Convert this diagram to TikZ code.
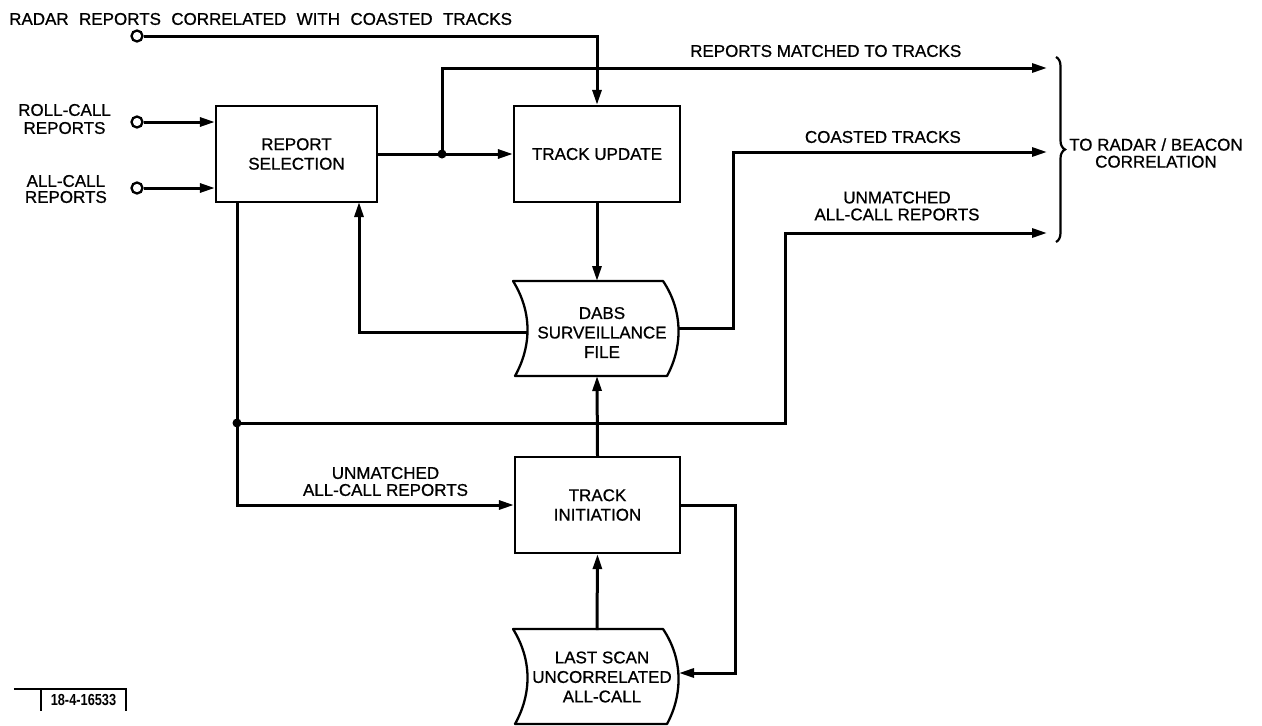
\documentclass[tikz,border=0pt]{standalone}
\usepackage{fontspec}
\setmainfont{Liberation Sans}[FakeBold=0.8]
\newfontfamily\titlefont{Liberation Sans}[FakeBold=0.8,WordSpace=2.2]
\newfontfamily\numfont{Liberation Sans Bold}
\usetikzlibrary{arrows.meta,decorations.pathreplacing,calc}
\begin{document}
\begin{tikzpicture}[x=1pt,y=-1pt,
  every node/.style={font=\fontsize{17}{19.5}\selectfont, inner sep=0pt},
  box/.style={draw, line width=2.3pt, minimum height=96pt, align=center},
  lbl/.style={align=center, font=\fontsize{17}{17}\selectfont},
  flow/.style={line width=3pt},
  arr/.style={flow, -{Triangle[length=15pt,width=9pt]}},
  port/.style={draw, circle, line width=2.3pt, minimum size=11pt},
  dot/.style={fill, circle, minimum size=9pt},
  filesh/.pic={\draw[line width=2.3pt, line join=round] (-84,-47.5) -- (66,-47.5) .. controls (86,-18) and (86,18) .. (70,47.5) -- (-82,47.5) .. controls (-65,17) and (-65,-17) .. cycle;}
]
\useasboundingbox (0,0) rectangle (1262,726);

% title and inputs
\node[anchor=west, font=\titlefont\fontsize{17}{19.5}\selectfont] (title) at (9,19) {RADAR REPORTS CORRELATED WITH COASTED TRACKS};
\node[port] (radar) at (137,36) {};
\node[port] (rcp) at (137,122) {};
\node[port] (acp) at (137,188) {};
\node[lbl, anchor=east, font=\fontsize{17}{18}\selectfont] (rcl) at (111,119) {ROLL-CALL\\REPORTS};
\node[lbl, anchor=east, font=\fontsize{17}{16}\selectfont] (acl) at (107,189) {ALL-CALL\\REPORTS};

% boxes
\node[box, minimum width=161pt] (rs) at (296.5,154) {REPORT\\SELECTION};
\node[box, minimum width=166pt] (tu) at (597,154) {TRACK UPDATE};
\node[box, minimum width=165pt] (ti) at (597.5,505) {TRACK\\INITIATION};

% files
\node[align=center] (dabs) at (602,332.5) {DABS\\SURVEILLANCE\\FILE};
\pic at (597,328.5) {filesh};
\node[align=center] (last) at (602,677) {LAST SCAN\\UNCORRELATED\\ALL-CALL};
\pic at (597,676.5) {filesh};

% named points
\coordinate (dabsN) at (597,281);
\coordinate (dabsS) at (597,376);
\coordinate (dabsW) at (527,332);
\coordinate (dabsE) at (678,328);
\coordinate (lastN) at (597,630);
\coordinate (lastE) at (679,673);
\coordinate (lB) at (735,673);
\coordinate (outM) at (1047,68);
\coordinate (outC) at (1047,152);
\coordinate (outU) at (1047,233);
\coordinate (j1) at (442,154);
\coordinate (rsIn) at (359,202);
\coordinate (rsOut) at (237,202);
\coordinate (j2) at (237,423);
\coordinate (uT) at (785,233);
\coordinate (cT) at (733,152);
\coordinate (bt) at (1056,57);
\coordinate (bb) at (1056,242);

% connectors
\draw[arr] (radar.east) -| (tu.north);
\draw[arr] (rcp.east) -- (rcp.east -| rs.west);
\draw[arr] (acp.east) -- (acp.east -| rs.west);
\draw[arr] (rs.east) -- (tu.west);
\draw[arr] (j1) |- (outM);
\draw[arr] (tu.south) -- (dabsN);
\draw[arr] (dabsW) -| (rsIn);
\draw[arr] (dabsE) -| (cT) -- (outC);
\draw[arr] (rsOut) |- (ti.west);
\draw[arr] (j2) -| (uT) -- (outU);
\draw[arr] (ti.north) -- (dabsS);
\draw[arr] (ti.east) -| (lB) -- (lastE);
\draw[arr] (lastN) -- (ti.south);
\node[dot] (d1) at (j1) {};
\node[dot] (d2) at (j2) {};

% labels
\node[anchor=west] (lm) at (690,51) {REPORTS MATCHED TO TRACKS};
\node[anchor=east] (lc) at (961,137) {COASTED TRACKS};
\node[lbl] (lu) at (897,206) {UNMATCHED\\ALL-CALL REPORTS};
\node[lbl] (lu2) at (385.5,481.5) {UNMATCHED\\ALL-CALL REPORTS};
\draw[decorate, decoration={brace, amplitude=9pt}, line width=2.2pt] (bt) -- (bb);
\node[lbl, anchor=west] (corr) at (1069,153) {TO RADAR / BEACON\\CORRELATION};

% figure number
\node[font=\numfont\fontsize{16}{16}\selectfont, minimum width=85pt, minimum height=21pt] (fig) at (83.5,700) {\scalebox{0.8}[1]{18-4-16533}};
\draw[line width=1.8pt] ([xshift=-27pt]fig.north west) -- (fig.north east) -- (fig.south east);
\draw[line width=1.8pt] (fig.north west) -- (fig.south west);
\end{tikzpicture}
\end{document}
